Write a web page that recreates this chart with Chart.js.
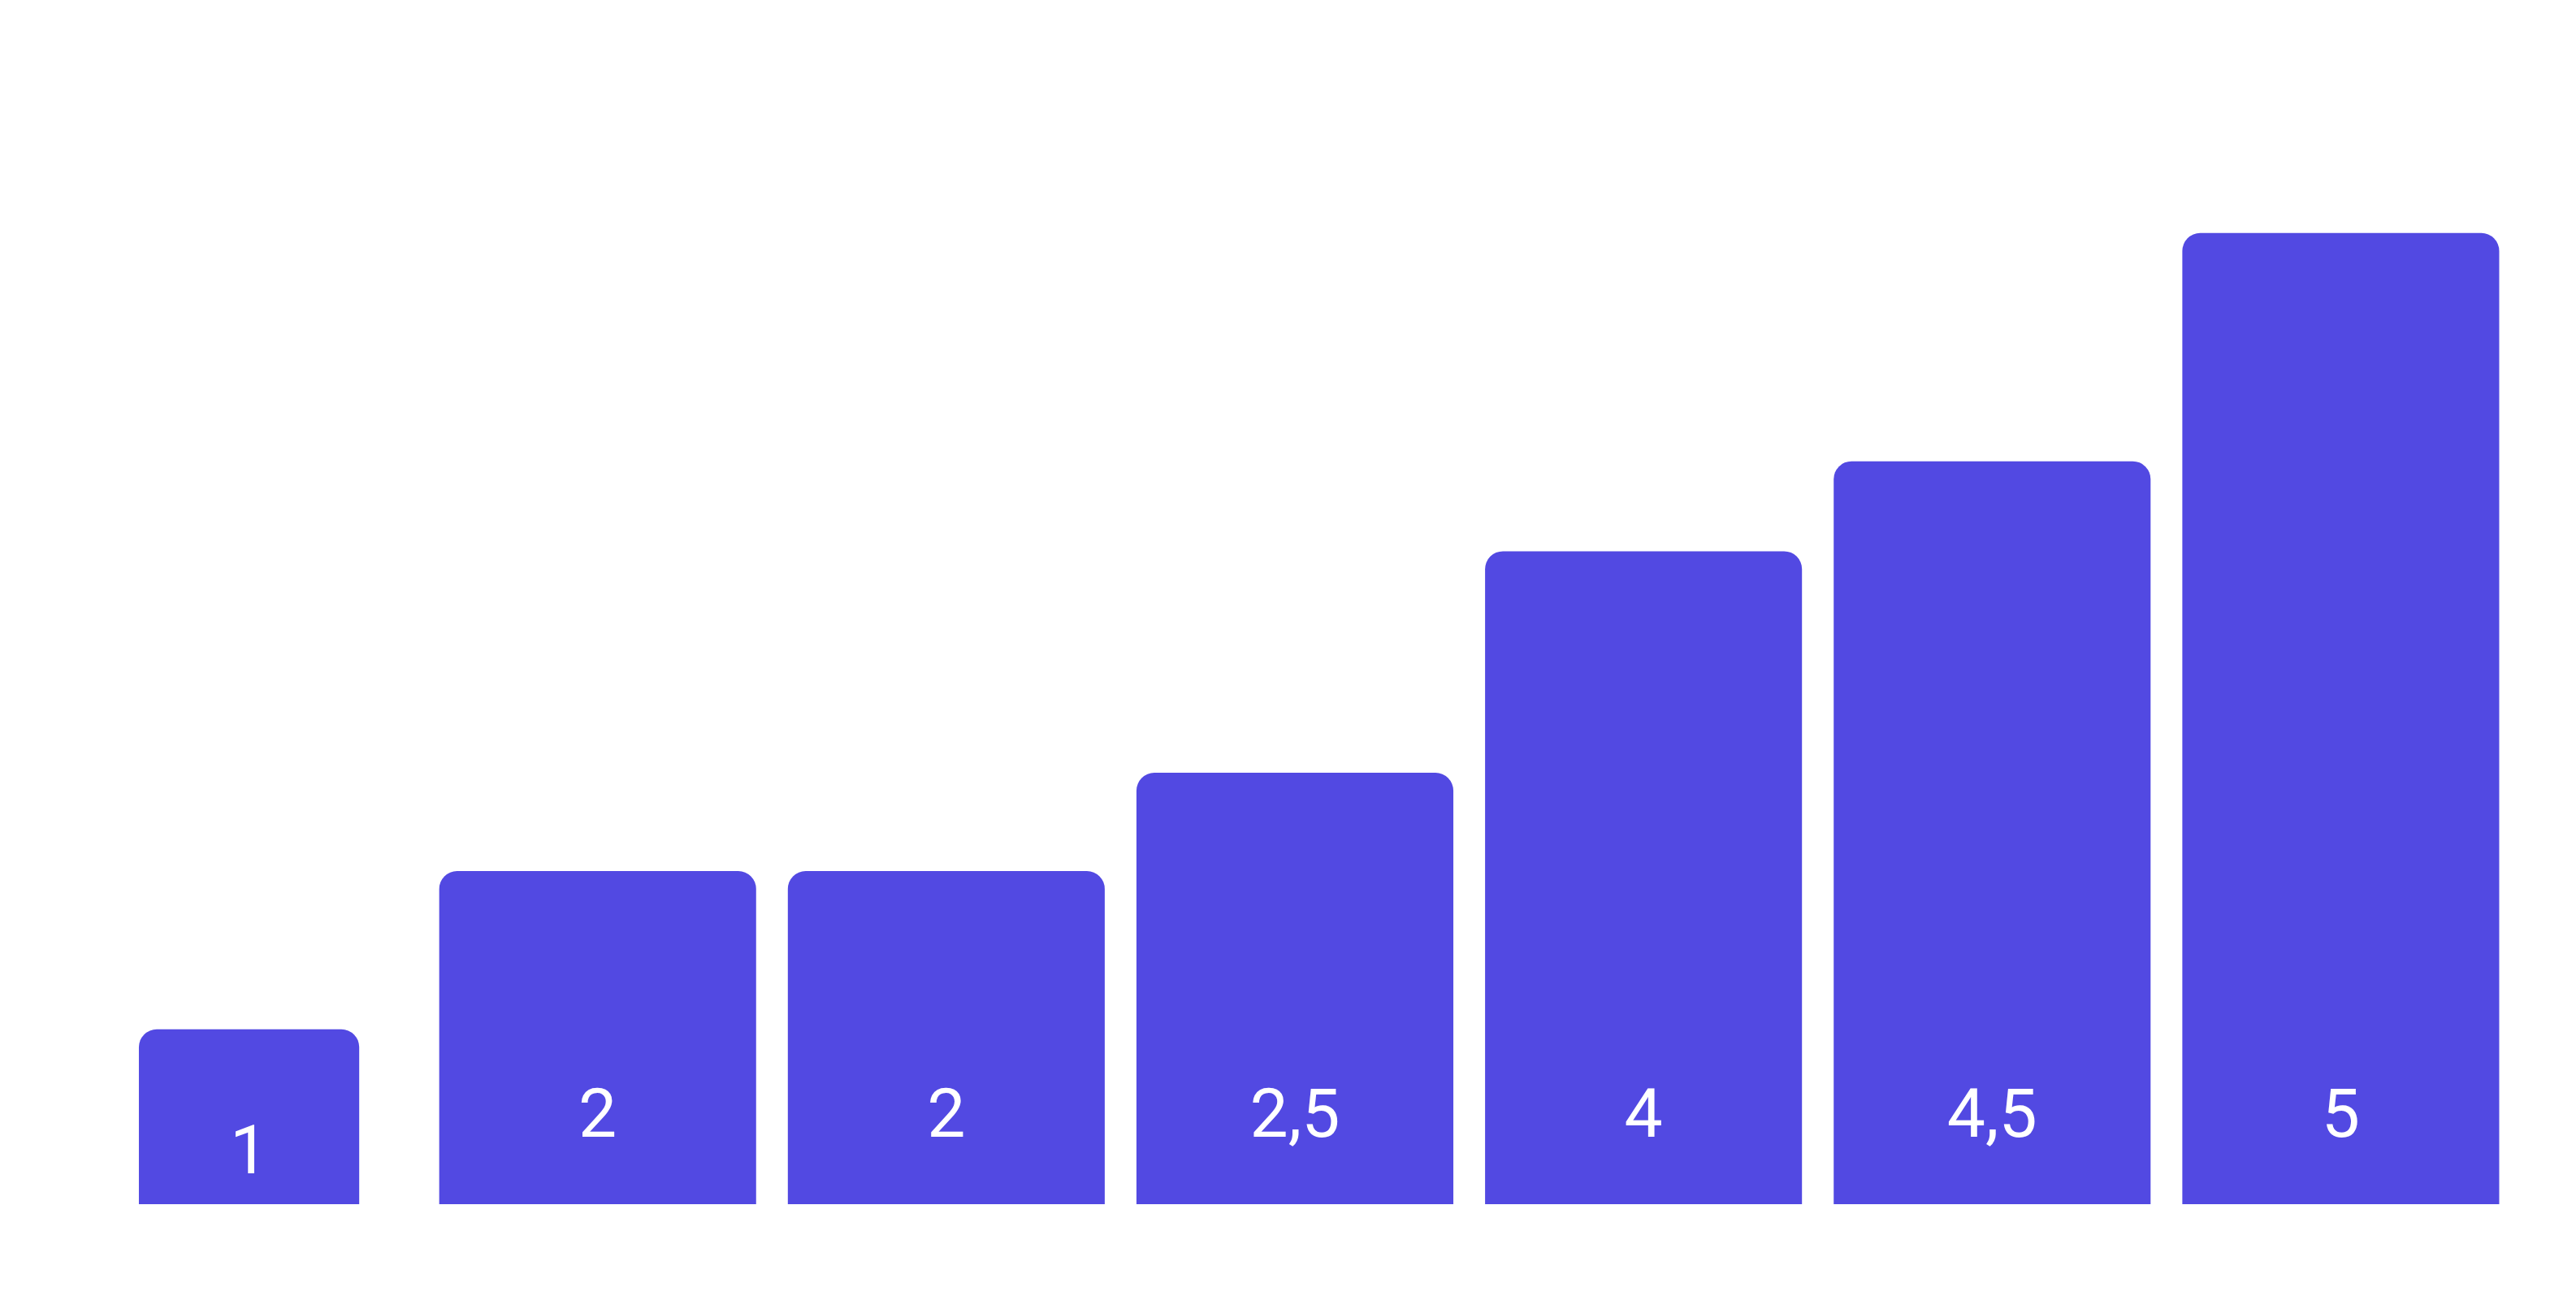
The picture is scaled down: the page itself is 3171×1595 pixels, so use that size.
<!DOCTYPE html>
<html>
<head>
<meta charset="utf-8">
<script src="https://cdn.jsdelivr.net/npm/chart.js@4"></script>
<style>
  html, body { margin: 0; padding: 0; background: #fff; }
  #wrap { width: 3171px; height: 1595px; }
</style>
</head>
<body>
<div id="wrap"><canvas id="barChart"></canvas></div>
<script>
// Chart data
const categories = ['A', 'B', 'C', 'D', 'E', 'F', 'G'];
const values = [1.05, 2, 2, 2.59, 3.92, 4.46, 5.83];
const valueLabels = ['1', '2', '2', '2,5', '4', '4,5', '5'];

const barColor = '#5249e2';
const labelFont = '84px Roboto, "Liberation Sans", sans-serif';

// first bar is drawn narrower than the rest, so it gets its own dataset
const firstBar = values.map((v, i) => i === 0 ? v : null);
const otherBars = values.map((v, i) => i === 0 ? null : v);

// white value labels near the bottom of each bar
const barLabels = {
    id: 'barLabels',
    afterDatasetsDraw(chart) {
        const ctx = chart.ctx;
        ctx.save();
        ctx.fillStyle = '#ffffff';
        ctx.font = labelFont;
        ctx.textAlign = 'center';
        ctx.textBaseline = 'alphabetic';
        chart.data.datasets.forEach((ds, di) => {
            chart.getDatasetMeta(di).data.forEach((bar, i) => {
                if (ds.data[i] == null) return;
                const y = Math.max(bar.base - 83, bar.y + 177);
                ctx.fillText(valueLabels[i], bar.x, y);
            });
        });
        ctx.restore();
    }
};

function generateChart() {
    const ctx = document.getElementById('barChart');

    window.chart = new Chart(ctx, {
        type: 'bar',
        data: {
            labels: categories,
            datasets: [{
                data: firstBar,
                backgroundColor: barColor,
                borderRadius: { topLeft: 22, topRight: 22 },
                borderSkipped: 'bottom',
                categoryPercentage: 1,
                barPercentage: 0.632
            }, {
                data: otherBars,
                backgroundColor: barColor,
                borderRadius: { topLeft: 22, topRight: 22 },
                borderSkipped: 'bottom',
                categoryPercentage: 1,
                barPercentage: 0.909
            }]
        },
        options: {
            responsive: true,
            maintainAspectRatio: false,
            animation: false,
            grouped: false,
            layout: {
                padding: { left: 92, right: 75, top: 47, bottom: 113 }
            },
            plugins: {
                legend: { display: false },
                tooltip: { enabled: false }
            },
            scales: {
                x: { display: false, grid: { display: false } },
                y: { display: false, min: 0, max: 7, grid: { display: false } }
            }
        },
        plugins: [barLabels]
    });
}

// make sure the label font is ready before the canvas draws text
document.fonts.load(labelFont).then(generateChart, generateChart);
</script>
</body>
</html>
